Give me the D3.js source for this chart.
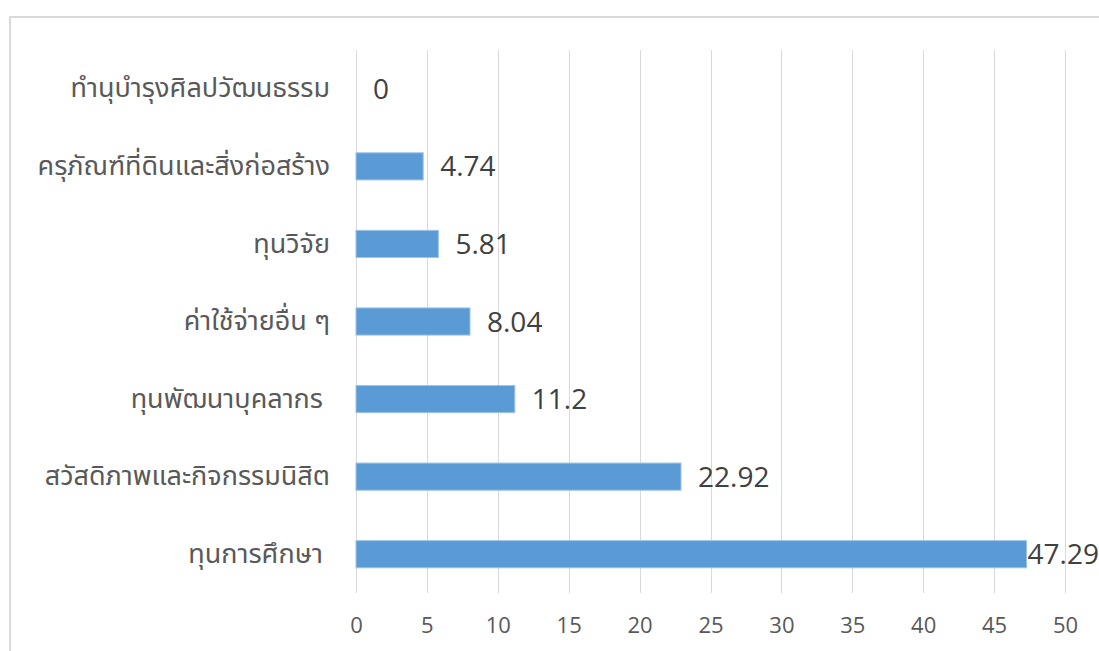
<!DOCTYPE html>
<html>
<head>
<meta charset="utf-8">
<script src="https://cdn.jsdelivr.net/npm/d3@7"></script>
<style>
  html, body { margin: 0; padding: 0; background: #fff; overflow: hidden; }
  text { white-space: pre; }
</style>
</head>
<body>
<script>
(function () {
    "use strict";

    // data, top to bottom as shown
    var categories = [
        "ทำนุบำรุงศิลปวัฒนธรรม",
        "ครุภัณฑ์ที่ดินและสิ่งก่อสร้าง",
        "ทุนวิจัย",
        "ค่าใช้จ่ายอื่น ๆ",
        "ทุนพัฒนาบุคลากร ",
        "สวัสดิภาพและกิจกรรมนิสิต",
        "ทุนการศึกษา "
    ];
    var values = [0, 4.74, 5.81, 8.04, 11.2, 22.92, 47.29];
    var valueLabels = ["0", "4.74", "5.81", "8.04", "11.2", "22.92", "47.29"];
    var xTicks = [0, 5, 10, 15, 20, 25, 30, 35, 40, 45, 50];

    var W = 1099, H = 651;
    var plot = {left: 356, right: 1065, top: 50, bottom: 593};

    var svg = d3.select("body").append("svg")
        .attr("width", W)
        .attr("height", H);

    // chart frame (runs off the right and bottom edge)
    svg.append("rect")
        .attr("x", 10)
        .attr("y", 17)
        .attr("width", W + 20)
        .attr("height", H + 20)
        .attr("fill", "#fff")
        .attr("stroke", "#d9d9d9")
        .attr("stroke-width", 2);

    var x = d3.scaleLinear().domain([0, 50]).range([plot.left, plot.right]);
    var y = d3.scaleBand()
        .domain(categories)
        .range([plot.top, plot.bottom])
        .paddingInner(0.65)
        .paddingOuter(0.325);

    // vertical gridlines
    svg.append("g").selectAll("line")
        .data(xTicks)
        .join("line")
        .attr("x1", function (d) { return Math.round(x(d)) + 0.5; })
        .attr("x2", function (d) { return Math.round(x(d)) + 0.5; })
        .attr("y1", plot.top)
        .attr("y2", plot.bottom)
        .attr("stroke", "#d9d9d9")
        .attr("stroke-width", 1);

    // x axis labels
    var xAxis = svg.append("g")
        .attr("transform", "translate(0," + (plot.bottom + 10) + ")")
        .call(d3.axisBottom(x).tickValues(xTicks).tickSize(0).tickPadding(0));
    xAxis.select(".domain").remove();
    xAxis.selectAll("text")
        .attr("dy", "0.71em")
        .attr("y", 14)
        .attr("fill", "#595959")
        .style("font-family", "'Open Sans', sans-serif")
        .style("font-size", "22px");

    // category labels
    var yAxis = svg.append("g")
        .attr("transform", "translate(" + (plot.left - 26) + ",0)")
        .call(d3.axisLeft(y).tickSize(0).tickPadding(0));
    yAxis.select(".domain").remove();
    yAxis.selectAll("text")
        .attr("fill", "#595959")
        .style("font-family", "'Noto Sans Thai', 'Noto Sans', sans-serif")
        .style("font-size", "27px");

    // bars
    svg.append("g").selectAll("rect")
        .data(values)
        .join("rect")
        .attr("x", x(0))
        .attr("y", function (d, i) { return y(categories[i]); })
        .attr("width", function (d) { return x(d) - x(0); })
        .attr("height", y.bandwidth())
        .attr("fill", "#5b9bd5")
        .attr("stroke", "#9dc3e6")
        .attr("stroke-width", function (d) { return d > 0 ? 1 : 0; });

    // value labels, pushed back inside the frame when they would overflow
    svg.append("g").selectAll("text")
        .data(values)
        .join("text")
        .text(function (d, i) { return valueLabels[i]; })
        .attr("y", function (d, i) { return y(categories[i]) + y.bandwidth() / 2; })
        .attr("dy", "0.36em")
        .attr("fill", "#404040")
        .style("font-family", "'Open Sans', sans-serif")
        .style("font-size", "28px")
        .attr("x", function (d) {
            var w = this.getComputedTextLength();
            return Math.min(x(d) + 17, W - w);
        });
})();
</script>
</body>
</html>
